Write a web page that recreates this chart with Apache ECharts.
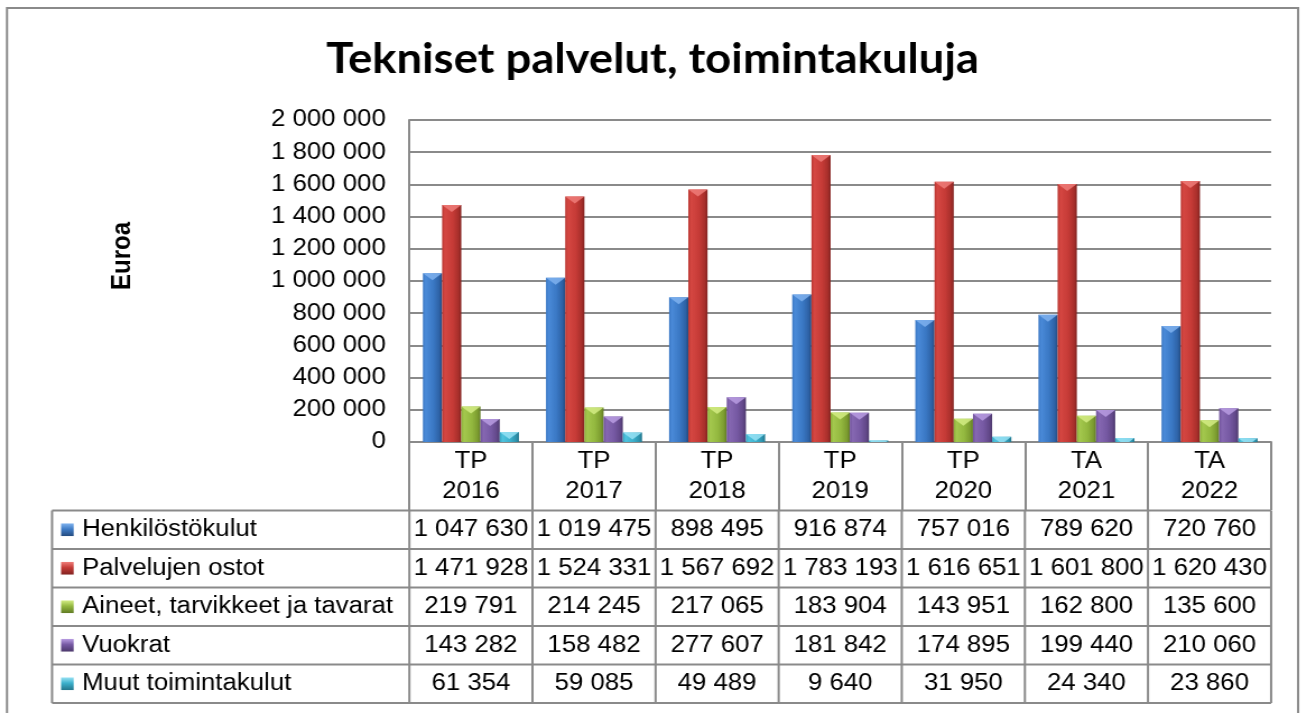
<!DOCTYPE html>
<html>
<head>
<meta charset="utf-8">
<title>Tekniset palvelut, toimintakuluja</title>
<script src="https://cdn.jsdelivr.net/npm/echarts@6/dist/echarts.min.js"></script>
<style>
  html, body { margin: 0; padding: 0; background: #fff; overflow: hidden; }
  #chart { position: absolute; left: 0; top: 0; transform-origin: 0 0; }
</style>
</head>
<body>
<div id="chart"></div>
<script>
// ---- data ----
const categories = ['TP\n2016', 'TP\n2017', 'TP\n2018', 'TP\n2019', 'TP\n2020', 'TA\n2021', 'TA\n2022'];
const seriesNames = ['Henkilöstökulut', 'Palvelujen ostot', 'Aineet, tarvikkeet ja tavarat', 'Vuokrat', 'Muut toimintakulut'];
const henkilostokulut = [1047630, 1019475, 898495, 916874, 757016, 789620, 720760];
const palvelujenOstot = [1471928, 1524331, 1567692, 1783193, 1616651, 1601800, 1620430];
const aineetTarvikkeet = [219791, 214245, 217065, 183904, 143951, 162800, 135600];
const vuokrat = [143282, 158482, 277607, 181842, 174895, 199440, 210060];
const muutKulut = [61354, 59085, 49489, 9640, 31950, 24340, 23860];
const yMin = 0, yMax = 2000000, yStep = 200000;

const seriesValues = [henkilostokulut, palvelujenOstot, aineetTarvikkeet, vuokrat, muutKulut];

// ---- look ----
const SX = 1.12;               // the whole drawing is widened horizontally
const W = 1301 / SX, H = 713;
const GRAY = '#8a8a8a';
const FONT = '"Liberation Sans", Arial, sans-serif';
const palette = [
  { stops: ['#3b78c4', '#4a8ad8', '#3a78c4', '#2e62a6', '#234b80'], tip: '#7fb2ee', key: '#3f7cc6' },
  { stops: ['#b83530', '#d54742', '#c63b37', '#a82f2b', '#822220'], tip: '#ef7d79', key: '#c43c38' },
  { stops: ['#8cb03a', '#a4c84e', '#93b83f', '#7c9c30', '#617c24'], tip: '#d3ec84', key: '#93b83f' },
  { stops: ['#6f519a', '#8668b2', '#7659a3', '#624889', '#4c386c'], tip: '#b89ce2', key: '#7659a3' },
  { stops: ['#36a6c2', '#4fc3de', '#3bb0cc', '#2e93ad', '#23768c'], tip: '#98e2f4', key: '#3bb0cc' }
];
const offsets = [0, 0.15, 0.55, 0.85, 1];
function barFill(p) {
  return new echarts.graphic.LinearGradient(0, 0, 1, 0,
    p.stops.map((c, i) => ({ offset: offsets[i], color: c })));
}
function spaced(v) {
  return String(v).replace(/\B(?=(\d{3})+(?!\d))/g, ' ');
}

const el = document.getElementById('chart');
el.style.width = W + 'px';
el.style.height = H + 'px';
el.style.transform = 'scaleX(' + SX + ')';
const chart = echarts.init(el, null, { renderer: 'canvas', width: W, height: H });

const plotLeft = 409 / SX, plotRight = 1270 / SX, plotTop = 120, plotBottom = 442;

const barSeries = seriesValues.map((vals, i) => ({
  type: 'bar',
  name: seriesNames[i],
  data: vals,
  barGap: '0%',
  barCategoryGap: '22%',
  itemStyle: { color: barFill(palette[i]) },
  z: 2
}));
const capSeries = seriesValues.map((vals, i) => ({
  type: 'pictorialBar',
  name: seriesNames[i] + ' cap',
  data: vals,
  barGap: '0%',
  barCategoryGap: '22%',
  symbol: 'triangle',
  symbolRotate: 180,
  symbolPosition: 'end',
  symbolSize: ['100%', 7],
  clip: true,
  silent: true,
  itemStyle: { color: palette[i].tip, opacity: 0.85 },
  z: 3
}));

chart.setOption({
  animation: false,
  backgroundColor: '#fff',
  grid: {
    left: plotLeft, right: W - plotRight, top: plotTop, bottom: H - plotBottom,
    containLabel: false
  },
  xAxis: {
    type: 'category',
    data: categories,
    axisLine: { show: true, lineStyle: { color: GRAY, width: 2 } },
    axisTick: { show: true, length: 68, lineStyle: { color: GRAY, width: 2 } },
    axisLabel: {
      interval: 0, margin: 5, color: '#000', fontFamily: FONT, fontSize: 23, lineHeight: 30
    },
    splitLine: { show: false }
  },
  yAxis: {
    type: 'value',
    min: yMin, max: yMax, interval: yStep,
    axisLine: { show: true, lineStyle: { color: GRAY, width: 2 } },
    axisTick: { show: false },
    axisLabel: {
      margin: 21, color: '#000', fontFamily: FONT, fontSize: 23,
      formatter: v => spaced(v)
    },
    splitLine: { show: true, lineStyle: { color: GRAY, width: 2 } }
  },
  series: barSeries.concat(capSeries)
});

// ---- data table under the plot, aligned to the category axis ----
const c0 = chart.convertToPixel({ xAxisIndex: 0 }, 0);
const c1 = chart.convertToPixel({ xAxisIndex: 0 }, 1);
const band = c1 - c0;
const colEdges = categories.map((_, i) => c0 - band / 2 + i * band);
colEdges.push(c0 - band / 2 + categories.length * band);
const tableLeft = 52 / SX;
const tableRight = colEdges[colEdges.length - 1];
const rowTop = 510.5, rowH = 38.5;

const graphics = [];
const line = (x1, y1, x2, y2) => graphics.push({
  type: 'line', silent: true,
  shape: { x1, y1, x2, y2 },
  style: { stroke: GRAY, lineWidth: 2 }
});

for (let r = 0; r <= seriesNames.length; r++) {
  const y = rowTop + r * rowH;
  line(tableLeft, y, tableRight, y);
}
const tableBottom = rowTop + seriesNames.length * rowH;
line(tableLeft, rowTop, tableLeft, tableBottom);
colEdges.forEach(x => line(x, rowTop, x, tableBottom));

seriesNames.forEach((name, r) => {
  const cy = rowTop + r * rowH + rowH / 2;
  const p = palette[r];
  graphics.push({
    type: 'rect', silent: true,
    shape: { x: 61 / SX, y: cy - 6.3, width: 12.6 / SX, height: 12.6 },
    style: {
      fill: new echarts.graphic.LinearGradient(0, 0, 0, 1, [
        { offset: 0, color: p.tip }, { offset: 0.45, color: p.key }, { offset: 1, color: p.stops[4] }
      ])
    }
  });
  graphics.push({
    type: 'text', silent: true, x: 82 / SX, y: cy,
    style: {
      text: name, fill: '#000', fontFamily: FONT, fontSize: 23,
      align: 'left', verticalAlign: 'middle'
    }
  });
  seriesValues[r].forEach((v, c) => {
    graphics.push({
      type: 'text', silent: true, x: colEdges[c] + band / 2, y: cy,
      style: {
        text: spaced(v), fill: '#000', fontFamily: FONT, fontSize: 23,
        align: 'center', verticalAlign: 'middle'
      }
    });
  });
});

// ---- title, axis name and frame ----
const titleText = 'Tekniset palvelut, toimintakuluja';
const titleFamily = 'Lato, "Open Sans", sans-serif';
const measure = document.createElement('canvas').getContext('2d');
measure.font = 'bold 42px ' + titleFamily;
const titleScale = (652 / SX) / measure.measureText(titleText).width;
graphics.push({
  type: 'text', silent: true, x: 652 / SX, y: 59, scaleX: titleScale,
  style: {
    text: titleText, fill: '#000', fontFamily: titleFamily, fontSize: 42, fontWeight: 'bold',
    align: 'center', verticalAlign: 'middle'
  }
});
graphics.push({
  type: 'text', silent: true, x: 122 / SX, y: 256, rotation: Math.PI / 2,
  style: {
    text: 'Euroa', fill: '#000', fontFamily: FONT, fontSize: 24, fontWeight: 'bold',
    align: 'center', verticalAlign: 'middle'
  }
});
graphics.push({
  type: 'rect', silent: true,
  shape: { x: 7 / SX, y: 8, width: (1297 - 7) / SX, height: 730 },
  style: { fill: 'none', stroke: GRAY, lineWidth: 2 }
});

chart.setOption({ graphic: graphics });
</script>
</body>
</html>
